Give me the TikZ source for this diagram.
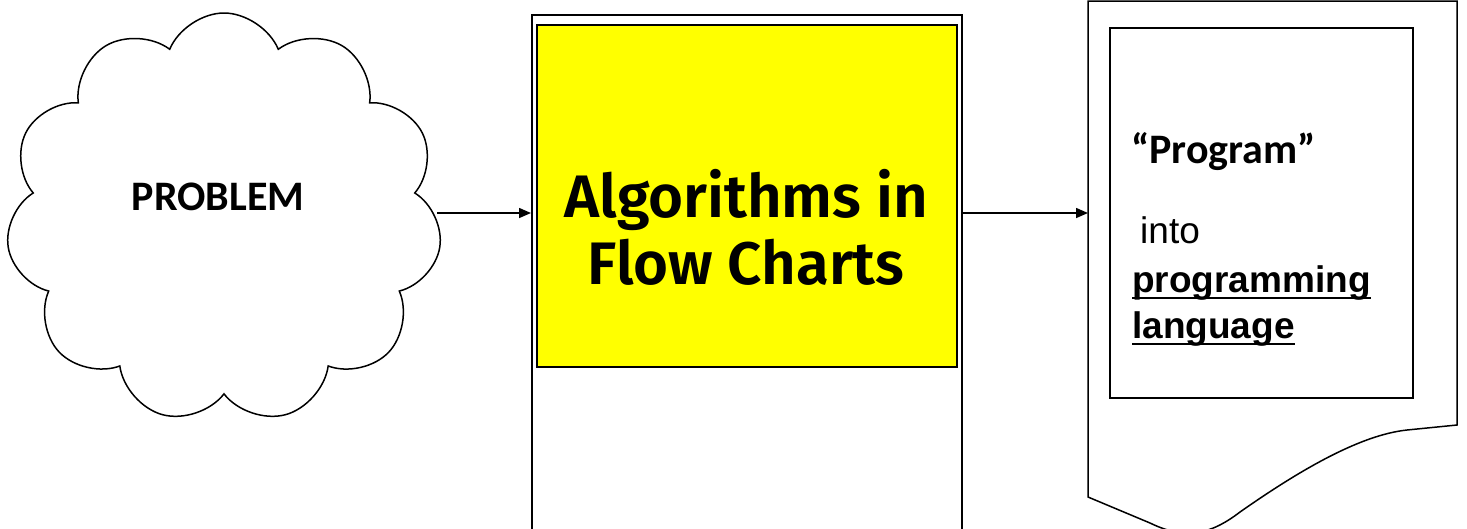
\documentclass[tikz,border=0pt]{standalone}
\usepackage{fontspec}
\setmainfont{Liberation Sans}
\newfontfamily\calibrifont{Carlito}
\newfontfamily\titlefont{Fira Sans SemiBold}
\usetikzlibrary{shapes.symbols,arrows.meta}
\definecolor{flowyellow}{HTML}{FFFF00}

\tikzset{
  cloudbox/.style={cloud,draw,cloud puffs=11,cloud puff arc=135,aspect=1.06,
    minimum width=436pt,minimum height=410pt,inner sep=0pt,line width=1.5pt},
  framebox/.style={draw,line width=1.5pt,anchor=north west,inner sep=0pt},
  yellowbox/.style={draw,fill=flowyellow,line width=2pt,anchor=north west,inner sep=0pt},
  arrowline/.style={line width=1.5pt,-{Triangle[length=12pt,width=10pt]}},
  leftword/.style={anchor=base west,inner sep=0pt},
  underline/.style={line width=2.5pt}
}

\begin{document}
\begin{tikzpicture}[x=1pt,y=-1pt]

      \useasboundingbox (0,0) rectangle (1467,528);
      \clip (0,0) rectangle (1467,528);

      \node[cloudbox] (problem) at (224,218) {};
      \node[anchor=base,inner sep=0pt] (problemtext) at (218,210)
        {\calibrifont\bfseries\fontsize{42}{48}\selectfont PROBLEM};

      \node[framebox,minimum width=430pt,minimum height=560pt] (flow) at (531,14) {};
      \node[yellowbox,minimum width=420pt,minimum height=342pt] (algo) at (536,24) {};

      \begin{scope}[every node/.style={anchor=base,inner sep=0pt,
          font=\titlefont\fontsize{60}{67}\selectfont}]
        \node (algoA) at (746,217) {Algorithms in};
        \node (algoB) at (746,284) {Flow Charts};
      \end{scope}

      \draw[line width=1.5pt] (1088,1) -- (1457,1) -- (1457,425) -- (1407,430)
        .. controls (1360,435) and (1300,470) .. (1240,512)
        .. controls (1210,535) and (1185,540) .. (1150,523)
        -- (1088,497) -- cycle;
      \coordinate (docin) at (1088,213);
      \coordinate (level) at (0,213);

      \node[framebox,minimum width=303pt,minimum height=370pt] (code) at (1109,27) {};

      \begin{scope}[every node/.style={leftword}]
        \node (program) at (1131,163) {\calibrifont\bfseries\fontsize{42}{48}\selectfont “Program”};
        \node (into) at (1140,243) {\fontsize{37}{44}\selectfont into};
        \node (lang1) at (1132,292) {\fontsize{37}{44}\selectfont\bfseries programming};
        \node (lang2) at (1132,338) {\fontsize{37}{44}\selectfont\bfseries language};
      \end{scope}

      \draw[underline] ([yshift=-6pt]lang1.base west) -- ([yshift=-6pt]lang1.base east);
      \draw[underline] ([yshift=-6pt]lang2.base west) -- ([yshift=-6pt]lang2.base east);

      \draw[arrowline] (problem.east |- level) -- (flow.west |- level);
      \draw[arrowline] (flow.east |- level) -- (docin);

    \end{tikzpicture}
\end{document}
